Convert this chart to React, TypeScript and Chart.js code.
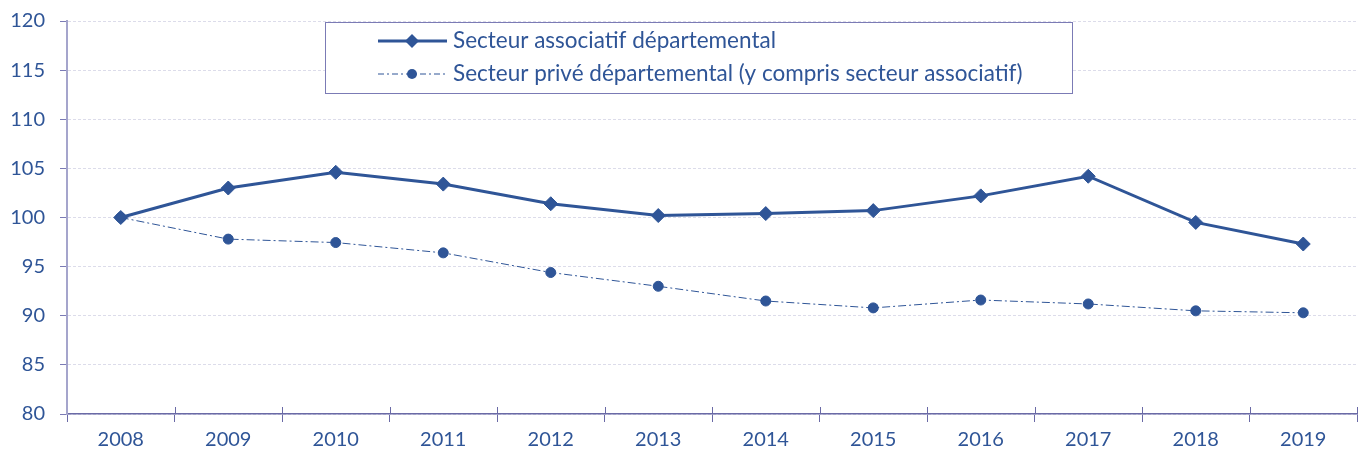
import React, { useEffect, useRef } from "react";
import { Chart, registerables } from "chart.js";

Chart.register(...registerables);

const years = ["2008", "2009", "2010", "2011", "2012", "2013", "2014", "2015", "2016", "2017", "2018", "2019"];
const associatif = [100, 103.0, 104.6, 103.4, 101.4, 100.2, 100.4, 100.7, 102.2, 104.2, 99.5, 97.3];
const prive = [100, 97.8, 97.45, 96.4, 94.4, 93.0, 91.5, 90.8, 91.6, 91.2, 90.5, 90.3];
const seriesLabels = [
  "Secteur associatif départemental",
  "Secteur privé départemental (y compris secteur associatif)",
];

const BLUE = "#2F5597";
const AXIS = "#6A6AA6";
const FONT = "Lato, 'Open Sans', sans-serif";

const tickAbovePlugin = {
  id: "tickAbove",
  afterDraw(chart: any) {
    const x = chart.scales.x;
    const ctx = chart.ctx;
    const n = years.length;
    ctx.save();
    ctx.strokeStyle = AXIS;
    ctx.lineWidth = 1;
    for (let i = 1; i <= n; i++) {
      const px = i < n ? (x.getPixelForValue(i - 1) + x.getPixelForValue(i)) / 2 : x.right;
      const xx = Math.round(px) + 0.5;
      ctx.beginPath();
      ctx.moveTo(xx, x.top - 7);
      ctx.lineTo(xx, x.top);
      ctx.stroke();
    }
    ctx.restore();
  },
};

const legendPlugin = {
  id: "boxLegend",
  afterDraw(chart: any) {
    const ctx = chart.ctx;
    ctx.save();
    ctx.fillStyle = "#ffffff";
    ctx.fillRect(325, 22, 747, 71);
    ctx.strokeStyle = "#7B7BB5";
    ctx.lineWidth = 1;
    ctx.strokeRect(325.5, 22.5, 747, 71);

    const rows = [41, 74];
    ctx.strokeStyle = BLUE;
    ctx.fillStyle = BLUE;
    ctx.lineWidth = 3;
    ctx.beginPath();
    ctx.moveTo(378, rows[0]);
    ctx.lineTo(447, rows[0]);
    ctx.stroke();
    ctx.beginPath();
    ctx.moveTo(412, rows[0] - 7);
    ctx.lineTo(419, rows[0]);
    ctx.lineTo(412, rows[0] + 7);
    ctx.lineTo(405, rows[0]);
    ctx.closePath();
    ctx.fill();
    ctx.lineWidth = 1;
    ctx.setLineDash([6, 3, 2, 3]);
    ctx.beginPath();
    ctx.moveTo(378, rows[1]);
    ctx.lineTo(447, rows[1]);
    ctx.stroke();
    ctx.setLineDash([]);
    ctx.beginPath();
    ctx.arc(412, rows[1], 5, 0, Math.PI * 2);
    ctx.fill();

    ctx.font = `22.5px ${FONT}`;
    ctx.textBaseline = "middle";
    ctx.textAlign = "left";
    ctx.fillText(seriesLabels[0], 453, rows[0]);
    ctx.fillText(seriesLabels[1], 453, rows[1]);
    ctx.restore();
  },
};

export default function App() {
  const ref = useRef<HTMLCanvasElement | null>(null);
  useEffect(() => {
    if (!ref.current) return;
    const chart = new Chart(ref.current, {
      type: "line",
      data: {
        labels: years,
        datasets: [
          {
            label: seriesLabels[0],
            data: associatif,
            borderColor: BLUE,
            backgroundColor: BLUE,
            borderWidth: 3,
            pointStyle: "rectRot",
            pointRadius: 7,
            pointHoverRadius: 7,
            pointBorderWidth: 1,
            tension: 0,
          },
          {
            label: seriesLabels[1],
            data: prive,
            borderColor: BLUE,
            backgroundColor: BLUE,
            borderWidth: 1,
            borderDash: [8, 3, 2, 3],
            pointStyle: "circle",
            pointRadius: 5,
            pointHoverRadius: 5,
            tension: 0,
          },
        ],
      },
      options: {
        animation: false,
        responsive: true,
        maintainAspectRatio: false,
        layout: { padding: { left: 0, right: 8, top: 21, bottom: 0 } },
        plugins: { legend: { display: false }, tooltip: { enabled: false } },
        scales: {
          x: {
            offset: true,
            afterFit: (s: any) => {
              s.height = 41;
              s.paddingLeft = 0;
              s.paddingRight = 0;
            },
            grid: {
              offset: true,
              drawOnChartArea: false,
              color: AXIS,
              tickColor: AXIS,
              tickLength: 8,
            },
            border: { display: true, color: AXIS, width: 1.5 },
            ticks: { color: BLUE, font: { family: FONT, size: 20 }, padding: 6, maxRotation: 0 },
          },
          y: {
            min: 80,
            max: 120,
            afterFit: (s: any) => {
              s.width = 67;
              s.paddingTop = 0;
              s.paddingBottom = 0;
            },
            ticks: { stepSize: 5, color: BLUE, font: { family: FONT, size: 20 }, padding: 15 },
            grid: {
              color: "#DCDCEA",
              tickColor: "#7B7BB5",
              tickLength: 7,
              tickBorderDash: [],
            },
            border: { display: true, color: "#A5A5CC", width: 2, dash: [3, 2] },
          },
        },
      },
      plugins: [tickAbovePlugin, legendPlugin],
    });
    return () => chart.destroy();
  }, []);
  return (
    <div style={{ position: "absolute", left: 0, top: 0, width: 1365, height: 455, background: "#fff" }}>
      <canvas ref={ref} />
    </div>
  );
}
